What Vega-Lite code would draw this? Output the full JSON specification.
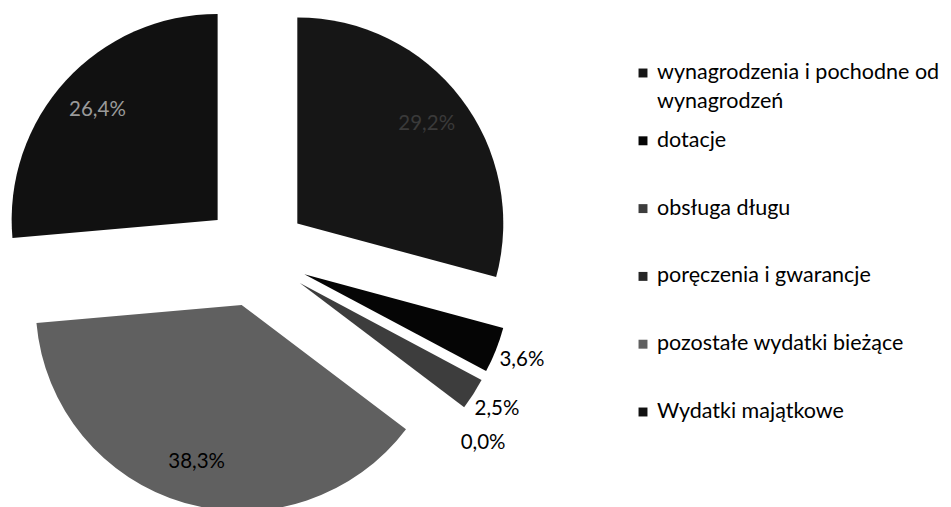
{
  "$schema": "https://vega.github.io/schema/vega-lite/v6.json",
  "padding": 0,
  "spacing": 0,
  "bounds": "flush",
  "background": "white",
  "config": {"view": {"stroke": null}, "font": "Lato", "concat": {"spacing": 0}},
  "data": {
    "values": [
      {"idx": 1, "kategoria": "wynagrodzenia i pochodne od wynagrodzeń", "udzial": 29.2},
      {"idx": 2, "kategoria": "dotacje", "udzial": 3.6},
      {"idx": 3, "kategoria": "obsługa długu", "udzial": 2.5},
      {"idx": 4, "kategoria": "poręczenia i gwarancje", "udzial": 0.0},
      {"idx": 5, "kategoria": "pozostałe wydatki bieżące", "udzial": 38.3},
      {"idx": 6, "kategoria": "Wydatki majątkowe", "udzial": 26.4}
    ]
  },
  "hconcat": [
    {
      "width": 512,
      "height": 510,
      "transform": [
        {"window": [{"op": "sum", "field": "udzial", "as": "cum"}], "sort": [{"field": "idx"}], "frame": [null, 0]},
        {"joinaggregate": [{"op": "sum", "field": "udzial", "as": "total"}]},
        {"calculate": "datum.cum - datum.udzial", "as": "start"},
        {"calculate": "(datum.cum - datum.udzial / 2) / datum.total * 2 * PI", "as": "mid"},
        {"calculate": "datum.udzial == 0 ? datum.mid + 0.045 : datum.mid", "as": "lang"},
        {"calculate": "datum.udzial > 10 ? 215 : (datum.udzial == 0 ? 295 : 286)", "as": "lrad"},
        {"calculate": "52 * sin(datum.mid)", "as": "ex"},
        {"calculate": "52 * cos(datum.mid)", "as": "ey"},
        {"calculate": "datum.lrad * sin(datum.lang)", "as": "lx"},
        {"calculate": "datum.lrad * cos(datum.lang)", "as": "ly"},
        {"calculate": "replace(format(datum.udzial, '.1f'), '.', ',') + '%'", "as": "etykieta"}
      ],
      "layer": [
        {
          "mark": {"type": "arc", "radius": 206, "strokeWidth": 0},
          "encoding": {
            "theta": {"field": "start", "type": "quantitative", "stack": null, "scale": {"domain": [0, 100]}},
            "theta2": {"field": "cum"},
            "x": {"field": "ex", "type": "quantitative", "stack": null, "scale": {"domain": [-256, 256], "nice": false, "zero": false}, "axis": null},
            "y": {"field": "ey", "type": "quantitative", "stack": null, "scale": {"domain": [-255, 255], "nice": false, "zero": false}, "axis": null},
            "color": {
              "field": "kategoria",
              "type": "nominal",
              "scale": {
                "domain": ["wynagrodzenia i pochodne od wynagrodzeń", "dotacje", "obsługa długu", "poręczenia i gwarancje", "pozostałe wydatki bieżące", "Wydatki majątkowe"],
                "range": ["#161616", "#050505", "#3d3d3d", "#262626", "#606060", "#111111"]
              },
              "legend": null
            }
          }
        },
        {
          "mark": {"type": "text", "fontSize": 20.5, "font": "Lato", "align": "center", "baseline": "middle"},
          "encoding": {
            "x": {"field": "lx", "type": "quantitative", "stack": null},
            "y": {"field": "ly", "type": "quantitative", "stack": null},
            "text": {"field": "etykieta"},
            "color": {
              "condition": [
                {"test": "datum.idx == 6", "value": "#9a9a9a"},
                {"test": "datum.idx == 1", "value": "#3a3a3a"}
              ],
              "value": "#000000"
            }
          }
        }
      ]
    },
    {
      "width": 262,
      "height": 510,
      "transform": [
        {"calculate": "datum.idx == 1 ? ['wynagrodzenia i pochodne od', 'wynagrodzeń'] : datum.kategoria", "as": "opis"}
      ],
      "layer": [
        {
          "mark": {"type": "square", "size": 80, "filled": true, "opacity": 1},
          "encoding": {
            "y": {
              "field": "kategoria",
              "type": "nominal",
              "scale": {
                "domain": ["wynagrodzenia i pochodne od wynagrodzeń", "dotacje", "obsługa długu", "poręczenia i gwarancje", "pozostałe wydatki bieżące", "Wydatki majątkowe"],
                "range": [73, 412],
                "padding": 0
              },
              "axis": null
            },
            "color": {
              "field": "kategoria",
              "type": "nominal",
              "scale": {
                "domain": ["wynagrodzenia i pochodne od wynagrodzeń", "dotacje", "obsługa długu", "poręczenia i gwarancje", "pozostałe wydatki bieżące", "Wydatki majątkowe"],
                "range": ["#161616", "#050505", "#3d3d3d", "#262626", "#606060", "#111111"]
              },
              "legend": null
            }
          }
        },
        {
          "mark": {"type": "text", "align": "left", "baseline": "top", "dx": 14, "dy": -11, "fontSize": 21.5, "font": "Lato", "lineHeight": 29, "color": "#000000"},
          "encoding": {
            "y": {"field": "kategoria", "type": "nominal", "axis": null},
            "text": {"field": "opis"}
          }
        }
      ]
    }
  ]
}
